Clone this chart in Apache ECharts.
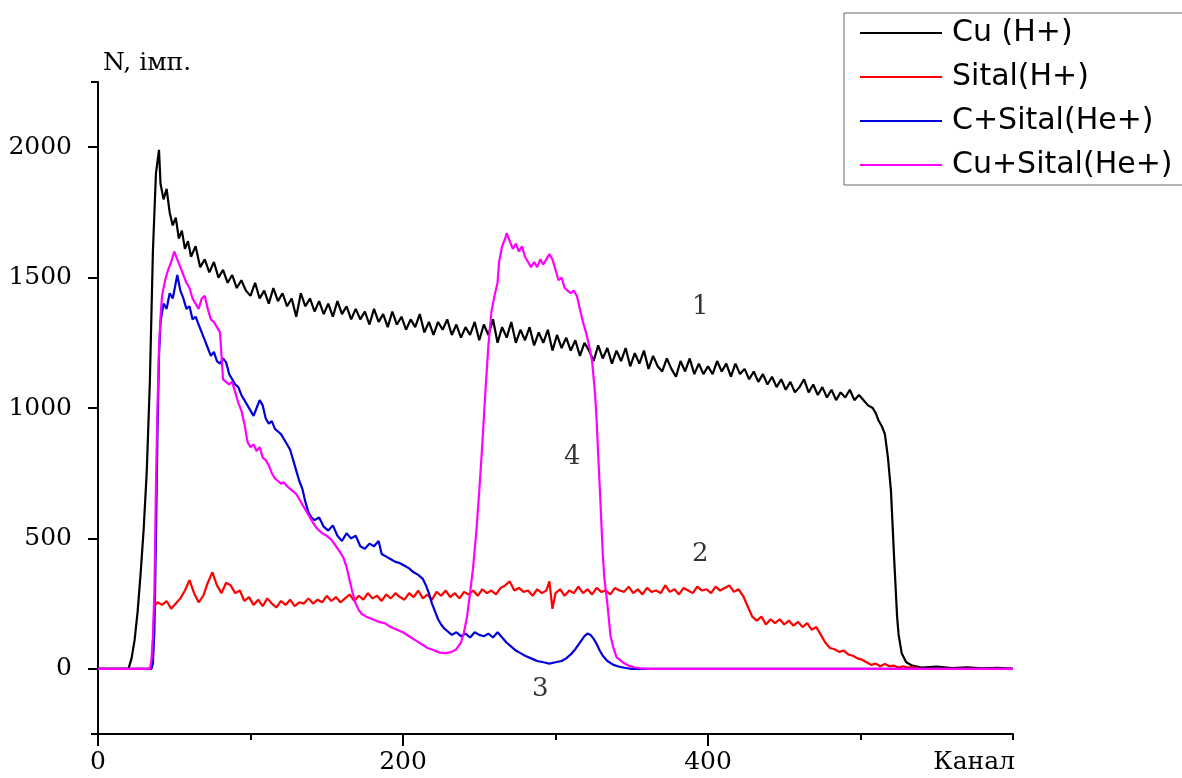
<!DOCTYPE html>
<html>
<head>
<meta charset="utf-8">
<script src="https://cdn.jsdelivr.net/npm/echarts@6/dist/echarts.min.js"></script>
<style>html,body{margin:0;padding:0;background:#fff}#chart{width:1182px;height:778px}</style>
</head>
<body>
<div id="chart"></div>
<script>
const seriesNames = ['Cu (H+)', 'Sital(H+)', 'C+Sital(He+)', 'Cu+Sital(He+)'];
const xTickLabels = [0, 200, 400];
const yTickLabels = [0, 500, 1000, 1500, 2000];

const cuH = [
[0,0],[10,0],[20,0],[22,40],[24,110],[26,220],[28,370],[30,540],[32,760],[34,1100],[36,1600],[38,1900],[40,1990],[41,1860],[43,1800],[45,1840],[47,1750],[49,1700],[51,1730],[53,1650],[55,1680],[57,1610],[59,1640],[61,1580],[64,1620],[67,1540],[70,1570],[73,1520],[76,1560],[79,1500],[82,1530],[85,1480],[88,1510],[91,1460],[94,1490],[97,1450],[100,1430],[103,1480],[106,1420],[109,1450],[112,1400],[115,1460],[118,1410],[121,1440],[124,1390],[127,1420],[130,1350],[133,1440],[136,1390],[139,1420],[142,1370],[145,1410],[148,1360],[151,1400],[154,1350],[157,1410],[160,1360],[163,1390],[166,1340],[169,1380],[172,1340],[175,1370],[178,1320],[181,1380],[184,1330],[187,1360],[190,1310],[193,1370],[196,1320],[199,1350],[202,1300],[205,1340],[208,1310],[211,1360],[214,1290],[217,1330],[220,1280],[223,1330],[226,1300],[229,1340],[232,1280],[235,1320],[238,1270],[241,1310],[244,1280],[247,1330],[250,1260],[253,1320],[256,1280],[259,1340],[262,1250],[265,1310],[268,1270],[271,1330],[274,1250],[277,1300],[280,1260],[283,1310],[286,1240],[289,1290],[292,1250],[295,1300],[298,1220],[301,1280],[304,1230],[307,1270],[310,1220],[313,1260],[316,1200],[319,1250],[322,1220],[325,1180],[328,1240],[331,1190],[334,1230],[337,1170],[340,1220],[343,1180],[346,1230],[349,1160],[352,1210],[355,1170],[358,1220],[361,1150],[364,1200],[367,1160],[370,1140],[373,1190],[376,1150],[379,1120],[382,1180],[385,1140],[388,1190],[391,1130],[394,1170],[397,1130],[400,1160],[403,1130],[406,1180],[409,1140],[412,1170],[415,1120],[418,1170],[421,1130],[424,1150],[427,1110],[430,1140],[433,1100],[436,1130],[439,1090],[442,1120],[445,1080],[448,1110],[451,1070],[454,1100],[457,1060],[460,1080],[463,1110],[466,1060],[469,1090],[472,1050],[475,1080],[478,1040],[481,1070],[484,1030],[487,1060],[490,1040],[493,1070],[496,1030],[499,1050],[502,1030],[505,1010],[508,1000],[510,980],[512,950],[514,930],[516,900],[518,810],[520,680],[522,430],[524,200],[525,130],[527,60],[530,25],[534,12],[540,5],[550,8],[560,3],[570,6],[580,2],[590,4],[600,0]
];

const sitalH = [
[0,0],[35,0],[36,100],[37,240],[39,255],[42,245],[45,260],[48,230],[51,250],[54,270],[57,300],[60,340],[63,290],[66,255],[69,280],[72,330],[75,370],[78,320],[81,290],[84,330],[87,320],[90,290],[93,300],[96,260],[99,275],[102,245],[105,265],[108,240],[111,270],[114,250],[117,235],[120,260],[123,245],[126,265],[129,240],[132,255],[135,250],[138,270],[141,250],[144,265],[147,255],[150,280],[153,260],[156,275],[159,255],[162,270],[165,285],[168,260],[171,280],[174,265],[177,290],[180,270],[183,280],[186,260],[189,285],[192,270],[195,290],[198,275],[201,265],[204,290],[207,275],[210,300],[213,270],[216,285],[219,265],[222,295],[225,280],[228,300],[231,275],[234,290],[237,270],[240,295],[243,285],[246,300],[249,280],[252,305],[255,290],[258,300],[261,285],[264,310],[267,320],[270,335],[273,300],[276,310],[279,295],[282,300],[285,280],[288,305],[291,290],[294,300],[296,335],[298,230],[300,290],[303,305],[306,280],[309,300],[312,290],[315,315],[318,290],[321,305],[324,285],[327,310],[330,295],[333,300],[336,285],[339,310],[342,300],[345,295],[348,315],[351,290],[354,305],[357,285],[360,310],[363,295],[366,300],[369,290],[372,320],[375,295],[378,305],[381,285],[384,310],[387,300],[390,290],[393,315],[396,300],[399,305],[402,290],[405,315],[408,300],[411,310],[414,320],[417,295],[420,305],[423,280],[426,240],[429,200],[432,185],[435,200],[438,170],[441,190],[444,175],[447,190],[450,170],[453,185],[456,165],[459,180],[462,160],[465,175],[468,150],[471,160],[474,130],[477,100],[480,80],[483,75],[486,65],[489,70],[492,55],[495,50],[498,40],[501,35],[504,25],[507,15],[510,20],[513,10],[516,18],[519,10],[522,12],[525,5],[528,10],[531,4],[534,8],[537,2],[540,0],[600,0]
];

const cSitalHe = [
[0,0],[35,0],[36,20],[37,150],[38,500],[39,900],[40,1200],[41,1330],[43,1400],[45,1380],[47,1440],[49,1420],[51,1480],[52,1510],[54,1450],[56,1420],[58,1380],[60,1390],[62,1340],[64,1350],[66,1320],[68,1290],[70,1260],[72,1230],[74,1200],[76,1215],[78,1180],[80,1170],[82,1190],[84,1175],[86,1130],[88,1110],[90,1090],[92,1080],[94,1050],[96,1030],[98,1010],[100,990],[102,970],[104,1000],[106,1030],[108,1010],[110,960],[112,940],[114,950],[116,920],[118,910],[120,900],[122,880],[124,860],[126,840],[128,800],[130,760],[132,720],[134,690],[136,640],[138,600],[140,580],[142,570],[145,580],[148,545],[151,530],[154,550],[157,510],[160,490],[163,520],[166,500],[169,510],[172,470],[175,460],[178,480],[181,470],[184,490],[186,440],[189,430],[192,420],[195,410],[198,405],[201,395],[204,385],[207,370],[210,360],[213,345],[215,320],[217,290],[219,250],[221,220],[223,190],[225,170],[227,155],[229,145],[232,130],[235,140],[238,125],[241,135],[244,120],[247,140],[250,130],[253,125],[256,135],[259,120],[262,140],[265,120],[268,100],[271,85],[274,70],[277,60],[280,50],[284,40],[288,30],[292,25],[296,20],[300,25],[304,30],[307,40],[310,55],[313,75],[316,100],[319,125],[321,135],[323,130],[325,115],[327,95],[329,70],[331,50],[334,30],[338,15],[342,8],[346,3],[350,0],[600,0]
];

const cuSitalHe = [
[0,0],[34,0],[35,30],[36,120],[37,300],[38,700],[39,1000],[40,1230],[41,1350],[42,1430],[44,1490],[46,1530],[48,1560],[50,1600],[52,1570],[54,1540],[56,1510],[58,1480],[60,1460],[62,1420],[64,1400],[66,1380],[68,1420],[70,1430],[72,1380],[74,1340],[76,1330],[78,1310],[80,1290],[81,1200],[82,1110],[84,1100],[86,1090],[88,1100],[90,1060],[92,1020],[94,990],[96,940],[98,870],[100,850],[102,860],[104,835],[106,850],[108,810],[110,800],[112,780],[114,750],[116,730],[118,720],[120,710],[122,715],[124,700],[126,690],[128,680],[130,670],[132,650],[135,620],[138,590],[141,560],[144,535],[147,520],[150,510],[153,495],[156,470],[159,445],[161,425],[163,390],[165,340],[167,290],[169,250],[171,225],[173,210],[176,200],[180,190],[184,180],[188,175],[192,160],[196,150],[200,140],[204,125],[208,110],[212,95],[216,80],[220,72],[224,62],[228,60],[232,65],[235,75],[238,100],[240,140],[242,200],[244,290],[246,390],[248,520],[250,680],[252,860],[254,1060],[256,1240],[258,1370],[260,1430],[262,1480],[263,1560],[265,1620],[267,1650],[268,1670],[270,1640],[272,1610],[274,1630],[276,1600],[278,1620],[280,1580],[282,1560],[284,1540],[286,1560],[288,1540],[290,1570],[292,1550],[294,1570],[296,1590],[298,1570],[300,1530],[302,1490],[304,1500],[306,1460],[308,1450],[310,1440],[312,1450],[314,1430],[316,1380],[318,1330],[320,1290],[322,1240],[324,1180],[326,1050],[327,950],[328,820],[329,700],[330,570],[331,440],[332,350],[334,250],[336,130],[338,80],[340,45],[344,25],[348,12],[352,5],[356,2],[360,0],[600,0]
];

const curveLabels = [
  {name: '1', value: [395, 1387]},
  {name: '2', value: [395, 440]},
  {name: '3', value: [290, -80]},
  {name: '4', value: [311, 812]}
];

const colors = ['#000000', '#ff0000', '#0000dd', '#ff00ff'];
const serif = "'DejaVu Serif', 'Liberation Serif', serif";
const axisColor = '#000';

const chart = echarts.init(document.getElementById('chart'), null, {renderer: 'canvas'});
const dataSets = [cuH, sitalH, cSitalHe, cuSitalHe];
const plain = v => String(v);

const option = {
  animation: false,
  backgroundColor: '#fff',
  grid: {left: 98, right: 169, top: 82, bottom: 44, containLabel: false},
  legend: {
    orient: 'vertical', left: 844, top: 13,
    padding: [5, 40, 5, 16],
    itemGap: 14, itemWidth: 82, itemHeight: 2, icon: 'rect',
    borderColor: '#666', borderWidth: 1, backgroundColor: '#fff',
    textStyle: {fontFamily: "'DejaVu Sans', sans-serif", fontSize: 30, color: '#000', lineHeight: 30, padding: [0, 0, 0, 5]},
    data: seriesNames
  },
  xAxis: [{
    type: 'value', min: 0, max: 600,
    name: 'Канал', nameLocation: 'end', nameGap: 2,
    nameTextStyle: {fontFamily: serif, fontSize: 25, color: '#000', align: 'right', verticalAlign: 'top', padding: [16, 0, 0, 0]},
    axisLine: {onZero: false, lineStyle: {color: axisColor, width: 2}},
    axisTick: {customValues: xTickLabels, length: 12, lineStyle: {color: axisColor, width: 2}},
    axisLabel: {customValues: xTickLabels, formatter: plain, fontFamily: serif, fontSize: 25, color: '#000', margin: 16},
    splitLine: {show: false}
  }, {
    type: 'value', min: 0, max: 600, position: 'bottom',
    axisLine: {show: false, onZero: false},
    axisTick: {customValues: [100, 300, 500, 600], length: 6, lineStyle: {color: axisColor, width: 2}},
    axisLabel: {show: false},
    splitLine: {show: false}
  }],
  yAxis: [{
    type: 'value', min: -250, max: 2250,
    name: 'N, імп.', nameLocation: 'end', nameGap: 6,
    nameTextStyle: {fontFamily: serif, fontSize: 25, color: '#000', align: 'left', padding: [0, 0, 0, 5]},
    axisLine: {show: true, onZero: false, lineStyle: {color: axisColor, width: 2}},
    axisTick: {show: true, customValues: yTickLabels, length: 10, lineStyle: {color: axisColor, width: 2}},
    axisLabel: {customValues: yTickLabels, formatter: plain, fontFamily: serif, fontSize: 25, color: '#000', margin: 26},
    splitLine: {show: false}
  }, {
    type: 'value', min: -250, max: 2250, position: 'left',
    axisLine: {show: false, onZero: false},
    axisTick: {show: true, customValues: [-250, 2250], length: 7, lineStyle: {color: axisColor, width: 2}},
    axisLabel: {show: false},
    splitLine: {show: false}
  }],
  series: seriesNames.map((n, i) => ({
    name: n, type: 'line', xAxisIndex: 0, yAxisIndex: 0,
    data: dataSets[i], showSymbol: false, symbol: 'none',
    lineStyle: {color: colors[i], width: 2.2}, itemStyle: {color: colors[i]},
    z: 2 + i
  })).concat([{
    name: 'labels', type: 'scatter', xAxisIndex: 0, yAxisIndex: 0,
    data: curveLabels, symbolSize: 1, itemStyle: {color: 'rgba(0,0,0,0)'},
    silent: true,
    label: {show: true, position: 'inside', formatter: '{b}', fontFamily: serif, fontSize: 26, color: '#000'}
  }])
};
chart.setOption(option);
</script>
</body>
</html>
